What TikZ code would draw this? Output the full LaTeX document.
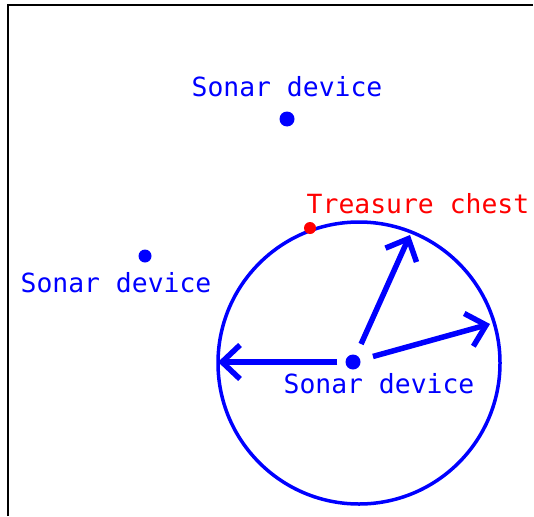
\documentclass[tikz,border=0pt]{standalone}
\usepackage{fontspec}
\setmonofont{DejaVu Sans Mono}
\usetikzlibrary{arrows.meta}
\tikzset{
  device/.style={circle, fill=blue, inner sep=0pt, minimum size=14pt},
  devlabel/.style={text=blue, font=\ttfamily\fontsize{26.4}{30}\selectfont, anchor=base, inner sep=0pt},
  ping/.style={->, blue, line width=5.5pt},
}
\begin{document}
\begin{tikzpicture}[x=1pt, y=-1pt, >={Straight Barb[length=18pt,width=34pt]}]
\useasboundingbox (0,0) rectangle (534,516);
\draw[line width=2pt] (8,516) -- (8,5) -- (533,5);
\node[device, minimum size=15pt] (top) at (287,119) {};
\node[device, minimum size=13pt] (left) at (145,256) {};
\node[device, minimum size=15pt] (mid) at (353,362) {};
\node[devlabel] (toplabel) at (287,96) {Sonar device};
\node[devlabel] (leftlabel) at (116,292) {Sonar device};
\node[devlabel] (midlabel) at (379,393) {Sonar device};
\node[draw=blue, line width=3.5pt, circle, minimum size=282pt, inner sep=0pt] (range) at (359,363) {};
\node[circle, fill=red, inner sep=0pt, minimum size=12pt] (chest) at (310,228) {};
\node[devlabel, text=red] (chestlabel) at (418,213) {Treasure chest};
\coordinate (west) at (218,362);
\coordinate (north) at (410,235);
\coordinate (east) at (490,324);
\draw[ping, shorten <=8pt] (mid) -- (west);
\draw[ping, shorten <=12pt] (mid) -- (north);
\draw[ping, shorten <=13pt] (mid) -- (east);
\end{tikzpicture}
\end{document}
